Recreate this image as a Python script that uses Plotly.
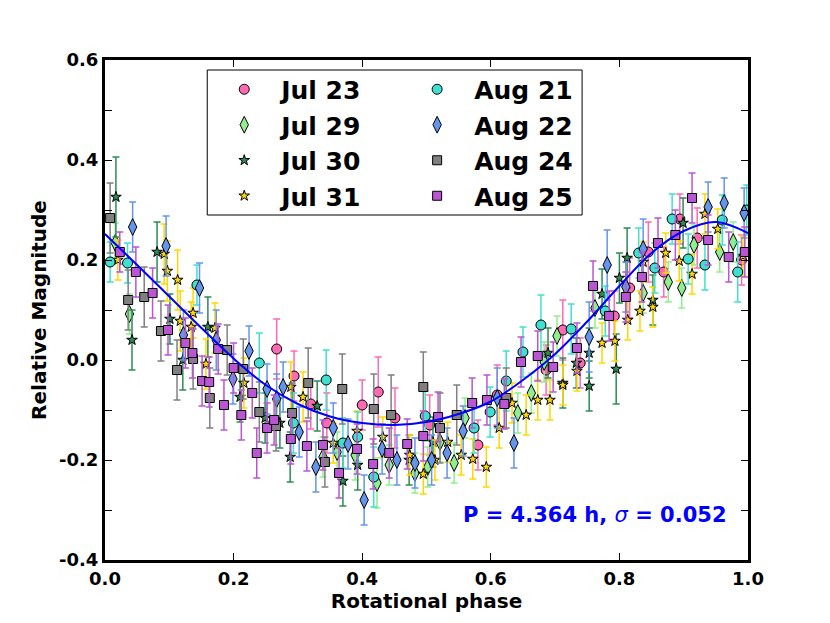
import plotly.graph_objects as go

# phase / relative magnitude / error, one list per night
jul23_phase = [0.267, 0.294, 0.320, 0.345, 0.400, 0.425, 0.451, 0.505, 0.580, 0.610, 0.686, 0.712,
               0.739, 0.792, 0.816, 0.845, 0.869, 0.894, 0.921, 0.990]
jul23_mag = [0.022, -0.032, -0.088, -0.126, -0.090, -0.064, -0.116, -0.130, -0.170, -0.070, -0.020, 0.060,
             -0.006, 0.088, 0.144, 0.216, 0.176, 0.282, 0.244, 0.200]
jul23_err = [0.06, 0.05, 0.05, 0.06, 0.05, 0.07, 0.06, 0.06, 0.05, 0.06, 0.05, 0.06,
             0.05, 0.05, 0.06, 0.06, 0.05, 0.05, 0.06, 0.05]

jul29_phase = [0.016, 0.038, 0.339, 0.361, 0.389, 0.423, 0.442, 0.482, 0.502, 0.521, 0.543, 0.560,
               0.642, 0.663, 0.683, 0.703, 0.762, 0.837, 0.876, 0.897, 0.916, 0.956, 0.977]
jul29_mag = [0.234, 0.092, -0.194, -0.184, -0.190, -0.246, -0.210, -0.226, -0.214, -0.164, -0.206, -0.116,
             -0.106, -0.066, -0.004, 0.048, 0.104, 0.134, 0.156, 0.144, 0.230, 0.216, 0.236]
jul29_err = [0.04, 0.04, 0.04, 0.04, 0.05, 0.05, 0.04, 0.04, 0.04, 0.04, 0.04, 0.04,
             0.04, 0.04, 0.04, 0.04, 0.04, 0.04, 0.04, 0.04, 0.04, 0.04, 0.04]

jul30_phase = [0.017, 0.042, 0.081, 0.101, 0.121, 0.160, 0.210, 0.249, 0.272, 0.288, 0.330, 0.370,
               0.393, 0.473, 0.510, 0.689, 0.712, 0.733, 0.753, 0.753, 0.773, 0.795, 0.800, 0.812,
               0.852, 0.899]
jul30_mag = [0.326, 0.040, 0.216, 0.082, 0.000, 0.066, -0.074, -0.116, -0.126, -0.194, -0.092, -0.242,
             -0.210, -0.200, -0.164, 0.014, -0.046, -0.006, -0.052, 0.014, 0.132, -0.018, 0.164, 0.204,
             0.120, 0.274]
jul30_err = [0.08, 0.06, 0.06, 0.05, 0.06, 0.06, 0.05, 0.05, 0.05, 0.05, 0.05, 0.05,
             0.05, 0.05, 0.05, 0.05, 0.05, 0.05, 0.05, 0.05, 0.05, 0.07, 0.05, 0.06,
             0.05, 0.05]

jul31_phase = [0.020, 0.092, 0.097, 0.113, 0.117, 0.134, 0.137, 0.157, 0.171, 0.216, 0.289, 0.308,
               0.355, 0.392, 0.432, 0.474, 0.495, 0.513, 0.533, 0.554, 0.572, 0.593, 0.613, 0.633,
               0.655, 0.673, 0.692, 0.712, 0.734, 0.773, 0.793, 0.813, 0.832, 0.837, 0.852, 0.872,
               0.893, 0.913, 0.933, 0.953, 0.992]
jul31_mag = [0.200, 0.212, 0.178, 0.160, 0.078, 0.066, 0.094, -0.008, 0.064, -0.046, -0.054, -0.074,
             -0.166, -0.142, -0.154, -0.190, -0.228, -0.200, -0.164, -0.190, -0.198, -0.214, -0.136, -0.086,
             -0.110, -0.080, -0.080, -0.050, -0.022, 0.034, 0.038, 0.080, 0.098, 0.196, 0.106, 0.214,
             0.198, 0.172, 0.292, 0.262, 0.208]
jul31_err = [0.04, 0.06, 0.06, 0.06, 0.06, 0.05, 0.05, 0.05, 0.05, 0.05, 0.05, 0.05,
             0.04, 0.04, 0.04, 0.04, 0.04, 0.04, 0.04, 0.04, 0.04, 0.04, 0.04, 0.04,
             0.04, 0.04, 0.04, 0.04, 0.04, 0.04, 0.04, 0.04, 0.04, 0.04, 0.04, 0.04,
             0.04, 0.04, 0.04, 0.04, 0.04]

aug21_phase = [0.008, 0.035, 0.143, 0.240, 0.293, 0.344, 0.370, 0.393, 0.418, 0.498, 0.574, 0.599,
               0.624, 0.650, 0.678, 0.725, 0.778, 0.830, 0.855, 0.882, 0.907, 0.933, 0.960, 0.984,
               0.998]
aug21_mag = [0.196, 0.194, 0.150, -0.006, -0.126, -0.040, -0.166, -0.154, -0.234, -0.112, -0.136, -0.104,
             -0.042, 0.016, 0.070, 0.062, 0.098, 0.214, 0.184, 0.282, 0.202, 0.190, 0.280, 0.176,
             0.300]
aug21_err = [0.04, 0.04, 0.04, 0.06, 0.06, 0.06, 0.05, 0.05, 0.06, 0.05, 0.05, 0.05,
             0.06, 0.05, 0.06, 0.05, 0.05, 0.05, 0.05, 0.05, 0.05, 0.05, 0.05, 0.06,
             0.05]

aug22_phase = [0.043, 0.095, 0.122, 0.147, 0.173, 0.199, 0.224, 0.252, 0.267, 0.277, 0.302, 0.328,
               0.355, 0.378, 0.403, 0.431, 0.454, 0.482, 0.508, 0.532, 0.557, 0.610, 0.636, 0.753,
               0.781, 0.810, 0.837, 0.938, 0.963, 0.994]
aug22_mag = [0.266, 0.228, 0.050, 0.144, 0.040, -0.038, 0.018, -0.058, -0.078, -0.054, -0.144, -0.214,
             -0.136, -0.168, -0.280, -0.178, -0.200, -0.206, -0.200, -0.186, -0.142, -0.076, -0.166, 0.046,
             0.190, 0.146, 0.222, 0.306, 0.314, 0.294]
aug22_err = [0.05, 0.06, 0.05, 0.05, 0.06, 0.05, 0.05, 0.05, 0.05, 0.05, 0.05, 0.05,
             0.05, 0.05, 0.05, 0.05, 0.05, 0.05, 0.05, 0.05, 0.05, 0.06, 0.05, 0.07,
             0.07, 0.05, 0.06, 0.05, 0.05, 0.05]

aug24_phase = [0.008, 0.036, 0.061, 0.087, 0.112, 0.137, 0.163, 0.190, 0.215, 0.240, 0.266, 0.291,
               0.316, 0.342, 0.369, 0.418, 0.445, 0.495, 0.521, 0.547, 0.624]
aug24_mag = [0.284, 0.120, 0.126, 0.058, -0.020, 0.002, -0.076, 0.020, -0.018, -0.104, -0.132, -0.106,
             -0.046, -0.204, -0.058, -0.098, -0.110, -0.054, -0.136, -0.110, -0.076]
aug24_err = [0.07, 0.06, 0.06, 0.06, 0.06, 0.06, 0.06, 0.05, 0.06, 0.06, 0.05, 0.06,
             0.07, 0.05, 0.07, 0.07, 0.08, 0.07, 0.07, 0.06, 0.06]

aug25_phase = [0.023, 0.048, 0.074, 0.098, 0.125, 0.136, 0.151, 0.162, 0.176, 0.185, 0.200, 0.212,
               0.229, 0.236, 0.252, 0.263, 0.289, 0.314, 0.339, 0.364, 0.392, 0.417, 0.442, 0.470,
               0.495, 0.518, 0.571, 0.594, 0.621, 0.647, 0.673, 0.697, 0.734, 0.759, 0.784, 0.810,
               0.835, 0.860, 0.887, 0.913, 0.938, 0.970, 0.995]
aug25_mag = [0.216, 0.176, 0.134, 0.060, 0.034, 0.014, -0.042, -0.044, 0.022, -0.090, -0.016, -0.110,
             -0.066, -0.186, -0.136, -0.120, -0.158, -0.172, -0.170, -0.226, -0.178, -0.208, -0.186, -0.168,
             -0.152, -0.114, -0.086, -0.080, -0.088, -0.004, 0.008, -0.014, 0.024, 0.148, 0.088, 0.126,
             0.166, 0.234, 0.250, 0.324, 0.240, 0.206, 0.216]
aug25_err = [0.04, 0.05, 0.05, 0.05, 0.05, 0.05, 0.05, 0.05, 0.05, 0.05, 0.05, 0.05,
             0.05, 0.05, 0.05, 0.05, 0.05, 0.05, 0.05, 0.05, 0.05, 0.05, 0.05, 0.05,
             0.05, 0.05, 0.05, 0.05, 0.05, 0.05, 0.05, 0.05, 0.05, 0.05, 0.05, 0.05,
             0.05, 0.05, 0.05, 0.05, 0.05, 0.05, 0.05]

# fitted Fourier curve, sampled off the blue line
fit_phase = [0.00, 0.05, 0.10, 0.15, 0.20, 0.25, 0.30, 0.35, 0.40, 0.45, 0.50,
             0.55, 0.60, 0.65, 0.70, 0.75, 0.80, 0.85, 0.90, 0.95, 1.00]
fit_mag = [0.252, 0.190, 0.127, 0.064, 0.003, -0.050, -0.088, -0.113, -0.126, -0.130, -0.124,
           -0.108, -0.083, -0.040, 0.012, 0.077, 0.148, 0.214, 0.258, 0.276, 0.254]

fit_label = "P = 4.364 h, <span style='font-weight:normal'><i>σ</i></span> = 0.052"

nights = [
    # name, phase, mag, err, colour, symbol, size, legend column
    ("Jul 23", jul23_phase, jul23_mag, jul23_err, "#ff69b4", "circle", 10, "legend"),
    ("Jul 29", jul29_phase, jul29_mag, jul29_err, "#90ee90", "diamond-tall", 12, "legend"),
    ("Jul 30", jul30_phase, jul30_mag, jul30_err, "#2e8b57", "star", 8, "legend"),
    ("Jul 31", jul31_phase, jul31_mag, jul31_err, "#ffd700", "star", 8, "legend"),
    ("Aug 21", aug21_phase, aug21_mag, aug21_err, "#40e0d0", "circle", 10, "legend2"),
    ("Aug 22", aug22_phase, aug22_mag, aug22_err, "#6495ed", "diamond-tall", 12, "legend2"),
    ("Aug 24", aug24_phase, aug24_mag, aug24_err, "#808080", "square", 9, "legend2"),
    ("Aug 25", aug25_phase, aug25_mag, aug25_err, "#ba55d3", "square", 9, "legend2"),
]

fig = go.Figure()

for name, ph, mag, err, col, sym, size, leg in nights:
    fig.add_trace(go.Scatter(
        x=ph, y=mag, mode="markers", name=name, legend=leg, legendgroup=name,
        error_y=dict(type="data", array=err, color=col, thickness=1.5, width=3.5),
        marker=dict(symbol=sym, size=size, color=col, line=dict(color="black", width=1)),
    ))

fig.add_trace(go.Scatter(
    x=fit_phase, y=fit_mag, mode="lines", line=dict(color="blue", width=2, shape="spline"),
    showlegend=False, hoverinfo="skip",
))

fig.add_annotation(
    x=0.97, y=-0.31, xref="x", yref="y", xanchor="right", yanchor="middle",
    text=fit_label, showarrow=False,
    font=dict(family="DejaVu Sans", size=21, color="blue", weight="bold"),
)

# frame shared by the two legend columns
fig.add_shape(
    type="rect", xref="paper", yref="paper", x0=0.159, x1=0.742, y0=0.69, y1=0.98,
    line=dict(color="black", width=1), fillcolor="white", layer="above",
)

yvals = [-0.4, -0.3, -0.2, -0.1, 0.0, 0.1, 0.2, 0.3, 0.4, 0.5, 0.6]
ytext = ["-0.4", "", "-0.2", "", "0.0", "", "0.2", "", "0.4", "", "0.6"]

tick_font = dict(family="DejaVu Sans", size=18, color="black", weight="bold")
title_font = dict(family="DejaVu Sans", size=20, color="black", weight="bold")
legend_font = dict(family="DejaVu Sans", size=25, color="black", weight="bold")

fig.update_xaxes(
    range=[0, 1], tickvals=[0, 0.2, 0.4, 0.6, 0.8, 1.0], tickformat=".1f",
    ticks="inside", ticklen=7, tickwidth=1, tickcolor="black",
    showline=True, linecolor="black", linewidth=3, mirror="ticks",
    showgrid=False, zeroline=False, tickfont=tick_font,
    title=dict(text="Rotational phase", font=title_font, standoff=6),
)
fig.update_yaxes(
    range=[-0.4, 0.6], tickvals=yvals, ticktext=ytext,
    ticks="inside", ticklen=7, tickwidth=1, tickcolor="black",
    showline=True, linecolor="black", linewidth=3, mirror="ticks",
    showgrid=False, zeroline=False, tickfont=tick_font,
    title=dict(text="Relative Magnitude", font=title_font, standoff=8),
)

legend_common = dict(
    orientation="v", yanchor="top", xanchor="left", y=0.987,
    itemwidth=64, tracegroupgap=6, borderwidth=0,
    bgcolor="rgba(0,0,0,0)", font=legend_font, traceorder="normal",
)

# page body adds 8px on each side, so the figure is 8px smaller than the window
fig.update_layout(
    width=822, height=615,
    margin=dict(l=97, r=82, t=52, b=63),
    paper_bgcolor="white", plot_bgcolor="white",
    legend=dict(x=0.159, **legend_common),
    legend2=dict(x=0.459, **legend_common),
    showlegend=True,
)

fig.write_html("out.html")
